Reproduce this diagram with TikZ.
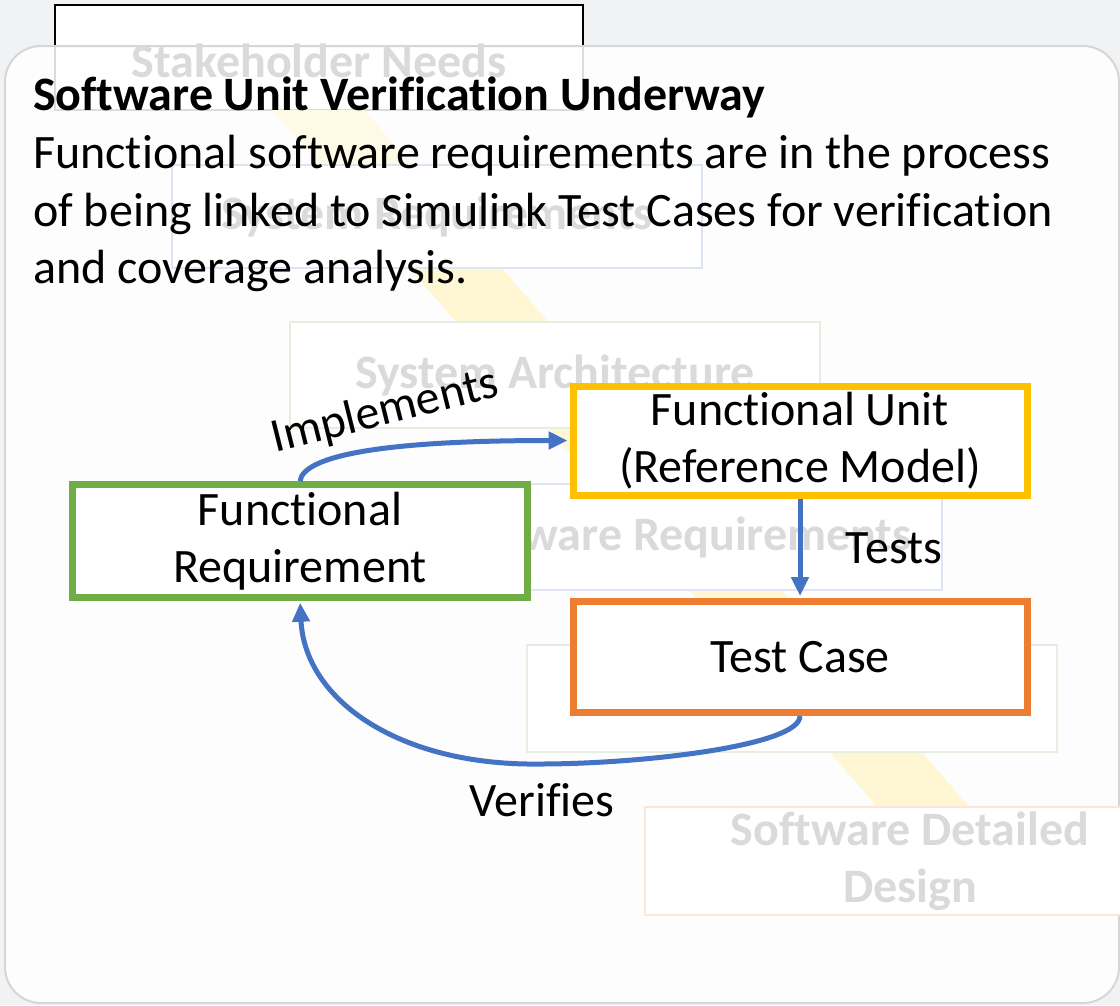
\documentclass[tikz,border=0pt]{standalone}
\usepackage{fontspec}
\setmainfont{Carlito}[Ligatures=NoCommon]
\usetikzlibrary{arrows.meta}

\definecolor{reqgreen}{HTML}{70AD47}
\definecolor{unityellow}{HTML}{FFC000}
\definecolor{caseorange}{HTML}{ED7D31}
\definecolor{linkblue}{HTML}{4472C4}
\definecolor{pagegray}{HTML}{F1F2F4}
\definecolor{panelrim}{HTML}{D6D6D6}
\definecolor{ghosttext}{HTML}{DADADA}
\definecolor{ghostblue}{HTML}{DDE5F3}
\definecolor{ghostgreen}{HTML}{E6EFDF}
\definecolor{ghostorange}{HTML}{FBE6D8}
\definecolor{bandyellow}{HTML}{FFF6D4}
\definecolor{bandpale}{HTML}{FFFAE6}

\tikzset{
  txt/.style={font=\fontsize{48}{58}\selectfont, inner sep=0pt},
  ghostbox/.style={draw=#1, line width=2.5pt, fill=white, minimum width=530, minimum height=105,
    inner sep=0pt, align=center, text=ghosttext, font=\fontsize{48}{57}\selectfont\bfseries},
  stagebox/.style={draw=#1, line width=7pt, fill=white, inner sep=0pt, align=center,
    minimum width=454, minimum height=111, font=\fontsize{48}{57}\selectfont},
  link/.style={draw=linkblue, line width=5pt, -{Triangle[length=19pt,width=17pt]}, shorten >=2pt},
  linklabel/.style={font=\fontsize{48}{57}\selectfont, inner sep=0pt}
}

\begin{document}
\begin{tikzpicture}[x=1pt,y=-1pt]
\useasboundingbox (0,0) rectangle (1120,1005);
\fill[pagegray] (0,0) rectangle (1120,1005);

% top level of the V, partly above the panel
\draw[black, line width=2.5pt, fill=white] (55,5) rectangle (583,110);

% translucent panel
\draw[panelrim, line width=2pt, fill=white, fill opacity=0.86, rounded corners=36pt]
  (5,46) rectangle (1119,1003);

% diagonal band of the V (paler where it runs under the heading)
\fill[bandpale] (272,110) -- (364,110) -- (413,166) -- (321,166) -- cycle;
\fill[bandyellow] (321,166) -- (413,166) -- (1050,900) -- (958,900) -- cycle;

% faded V-model stages
\node[font=\fontsize{48}{57}\selectfont\bfseries, text=ghosttext, inner sep=0pt] (sn) at (319,61) {Stakeholder Needs};
\node[ghostbox=ghostblue, minimum height=103] (sr) at (437,216.5) {System Requirements};
\node[ghostbox=ghostgreen, minimum height=106] (sa) at (555,375) {System Architecture};
\node[ghostbox=ghostblue, minimum height=106] (swr) at (677,537) {Software Requirements};
\node[ghostbox=ghostgreen, minimum height=107] (swa) at (792,698.5) {};
\node[ghostbox=ghostorange, minimum height=108] (sdd) at (910,861) {Software Detailed\\Design};

% heading and description
\node[txt, anchor=base west, font=\fontsize{48}{58}\selectfont\bfseries] (title) at (33,110) {Software Unit Verification Underway};
\node[txt, anchor=base west] (l1) at (33,168) {Functional software requirements are in the process};
\node[txt, anchor=base west] (l2) at (33,226) {of being linked to Simulink Test Cases for verification};
\node[txt, anchor=base west] (l3) at (33,283) {and coverage analysis.};

% traceability elements
\node[stagebox=reqgreen, minimum width=455, minimum height=112.5] (req) at (300,541) {Functional\\Requirement};
\node[stagebox=unityellow, minimum height=109] (unit) at (800,440.5) {Functional Unit\\(Reference Model)};
\node[stagebox=caseorange] (tc) at (800,657) {Test Case};

\coordinate (vlow) at (540,764);

\draw[link] (req.north) .. controls +(3,-25) and +(-190,0) .. (unit.west);
\draw[link] (unit.south) -- (tc.north);
\draw[link] (tc.south) .. controls +(0,30) and +(100,0) .. (vlow)
  .. controls +(-140,2) and +(5,100) .. (req.south);

\node[linklabel, rotate=14] (impl) at (385,412) {Implements};
\node[linklabel] (tests) at (894,548) {Tests};
\node[linklabel] (ver) at (542,800) {Verifies};
\end{tikzpicture}
\end{document}
